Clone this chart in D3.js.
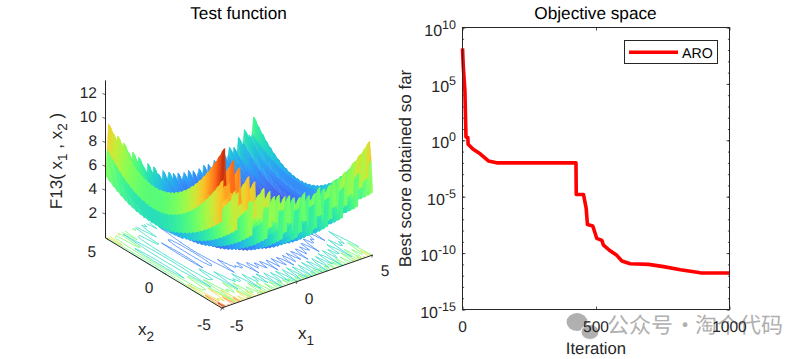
<!DOCTYPE html>
<html><head><meta charset="utf-8">
<script src="https://cdn.jsdelivr.net/npm/d3@7"></script>
<style>html,body{margin:0;padding:0;background:#fff}svg{display:block}text{font-family:"Liberation Sans",Arial,sans-serif;text-rendering:geometricPrecision}</style>
</head><body><svg id="c" width="810" height="359"></svg>
<script>
// Right panel: convergence curve.
const iterations = [0,3,9,13,20,21,40,66,97,128,425,426,453,463,468,488,503,522,528,553,578,597,628,697,753,816,891,1000];
const logScores = [8.15,6.5,4.4,0.3,0.25,-0.35,-0.8,-1.2,-1.83,-2,-2,-4.8,-4.8,-6.0,-7.47,-7.6,-8.7,-8.87,-9.3,-9.8,-10.2,-10.7,-10.95,-11.0,-11.2,-11.47,-11.75,-11.77];
const seriesName = "ARO";
const xTicks = [0,500,1000];
const yExponents = [10,5,0,-5,-10,-15];
const yMinorExponents = d3.range(-15,11);
// Left panel: the surface is the sampled test function F13 on a 101x101 grid (step 0.1).
// Its per-cell values cannot be read from the picture, so they are composed from these profile lists,
// which come from the function's definition and were checked against the picture's peaks.
const bowlProfile = [36,34.81,33.64,32.49,31.36,30.25,29.16,28.09,27.04,26.01,25,24.01,23.04,22.09,21.16,20.25,19.36,18.49,17.64,16.81,16,15.21,14.44,13.69,12.96,12.25,11.56,10.89,10.24,9.61,9,8.41,7.84,7.29,6.76,6.25,5.76,5.29,4.84,4.41,4,3.61,3.24,2.89,2.56,2.25,1.96,1.69,1.44,1.21,1,.81,.64,.49,.36,.25,.16,.09,.04,.01,0,.01,.04,.09,.16,.25,.36,.49,.64,.81,1,1.21,1.44,1.69,1.96,2.25,2.56,2.89,3.24,3.61,4,4.41,4.84,5.29,5.76,6.25,6.76,7.29,7.84,8.41,9,9.61,10.24,10.89,11.56,12.25,12.96,13.69,14.44,15.21,16];
const rippleA = [0,.6545,.9045,.0955,.3455,1,.3455,.0955,.9045,.6545];
const rippleB = [0,.3455,.9045,.9045,.3455];
const contourLevels = [2,4,6,8,10,12];
const zTicks = [2,4,6,8,10,12];
const floorTicks = [-5,0,5];

const svg = d3.select("#c");
const ink = "#262626";
const N = bowlProfile.length;
// i indexes x1 on the plot, j indexes x2: the plot's x2 is the function's first variable
const zAt = (i,j) => 0.1*(rippleA[j%10] + bowlProfile[j]*(1+rippleA[i%10]) + bowlProfile[i]*(1+rippleB[i%5]));

// ---------- left panel: orthographic projection built from linear scales
const gx1 = d3.scaleLinear().domain([-5,5]).range([0,151]);
const gy1 = d3.scaleLinear().domain([-5,5]).range([0,-53]);
const gx2 = d3.scaleLinear().domain([-5,5]).range([0,-116.2]);
const gy2 = d3.scaleLinear().domain([-5,5]).range([0,-70]);
const gz = d3.scaleLinear().domain([0,13.2]).range([0,-157.6]);
const O = [221.7,308];
const proj = (a,b,z) => [O[0]+gx1(a)+gx2(b), O[1]+gy1(a)+gy2(b)+gz(z)];
const color = d3.scaleSequential(d3.interpolateTurbo).domain([-0.2,13.6]);
const val = i => -5+i*0.1;

const L = svg.append("g");
// floor contours
const flat = new Array(N*N);
for(let j=0;j<N;j++) for(let i=0;i<N;i++) flat[i+j*N]=zAt(i,j);
const contours = d3.contours().size([N,N]).thresholds(contourLevels)(flat);
const toFloor = p => proj(val(p[0]-0.5),val(p[1]-0.5),0);
const inside = p => p[0]>=0.5&&p[0]<=N-0.5&&p[1]>=0.5&&p[1]<=N-0.5;
const contourLine = d3.line().defined(inside).x(p=>toFloor(p)[0]).y(p=>toFloor(p)[1]);
const rings = [];
contours.forEach(c=>c.coordinates.forEach(poly=>poly.forEach(r=>rings.push({v:c.value,r}))));
L.append("g").attr("fill","none").attr("stroke-width",0.8).selectAll("path").data(rings).join("path")
  .attr("stroke",d=>color(d.v)).attr("d",d=>contourLine(d.r));

// surface, painted far to near
const cells = [];
for(let i=N-2;i>=0;i--) for(let j=N-2;j>=0;j--) cells.push([i,j]);
L.append("g").attr("stroke-width",0.5).selectAll("path").data(cells).join("path").each(function(d){
  const [i,j]=d;
  const q=[[i,j],[i+1,j],[i+1,j+1],[i,j+1]];
  const zs=q.map(c=>zAt(c[0],c[1]));
  const c=color(d3.mean(zs));
  this.setAttribute("d","M"+q.map((p,k)=>proj(val(p[0]),val(p[1]),zs[k]).map(v=>v.toFixed(2)).join(",")).join("L")+"Z");
  this.setAttribute("fill",c);this.setAttribute("stroke",c);
});

// 3-D axes
const A = L.append("g").attr("stroke",ink).attr("fill","none");
const seg=(a,b,w)=>A.append("line").attr("x1",a[0]).attr("y1",a[1]).attr("x2",b[0]).attr("y2",b[1]).attr("stroke-width",w||1);
seg(proj(-5,5,0),proj(-5,5,13.2),1);
seg(proj(-5,5,0),proj(-5,-5,0),1);
seg(proj(-5,-5,0),proj(5,-5,0),1);
zTicks.forEach(z=>{const p=proj(-5,5,z);seg(p,[p[0]-3,p[1]-1.2],.7);});
floorTicks.forEach(v=>{
  const p=proj(v,-5,0);seg(p,[p[0]-1,p[1]+2.5],.7);
  const q=proj(-5,v,0);seg(q,[q[0]+2.5,q[1]+1.3],.7);
});
const T=(x,y,s,o={})=>svg.append("text").attr("x",x).attr("y",y).attr("fill",o.fill||ink)
  .attr("font-size",o.size||15.5).attr("text-anchor",o.anchor||"middle").text(s);
zTicks.forEach(z=>T(97,proj(-5,5,z)[1]+3.5,z,{anchor:"end"}));
[[-5,236.7,331],[0,309,304],[5,385,276]].forEach(d=>T(d[1],d[2],d[0]));
[[5,91.7,257],[0,149,293],[-5,204,330]].forEach(d=>T(d[1],d[2],d[0]));
function sub(x,y,base,s){
  const t=svg.append("text").attr("x",x).attr("y",y).attr("fill",ink).attr("font-size",17).attr("text-anchor","middle");
  t.append("tspan").text(base);
  t.append("tspan").attr("font-size",13.5).attr("dy",6).text(s);
}
sub(146,335,"x","2");
sub(306,339,"x","1");
T(238.5,19,"Test function",{size:17.2,fill:"#000"});
const zl=svg.append("text").attr("transform","translate(62,161) rotate(-90)").attr("text-anchor","middle").attr("font-size",17).attr("fill",ink);
zl.append("tspan").text("F13( x");
zl.append("tspan").attr("font-size",13.5).attr("dy",5).text("1");
zl.append("tspan").attr("dy",-5).text(" , x");
zl.append("tspan").attr("font-size",13.5).attr("dy",5).text("2");
zl.append("tspan").attr("dy",-5).text(" )");

// ---------- right panel
const x = d3.scaleLinear().domain([0,1000]).range([462.5,729.5]);
const y = d3.scaleLinear().domain([-15,10]).range([309.5,27.5]);
const wm = svg.append("g").attr("fill","#b0b0b0");
wm.append("ellipse").attr("cx",577).attr("cy",322).attr("rx",10.5).attr("ry",9);
wm.append("ellipse").attr("cx",590).attr("cy",332).attr("rx",9).attr("ry",7.5).attr("stroke","#fff").attr("stroke-width",1);
const wt = wm.append("text").attr("y",333).attr("font-size",22).style("font-family",'"Noto Sans CJK SC"');
wt.append("tspan").attr("x",607).text("公众号");
wt.append("tspan").attr("x",674).text("·");
wt.append("tspan").attr("x",695).text("淘个代码");

const R = svg.append("g");
const styleAxis = g => { g.select(".domain").remove(); g.selectAll("text").remove(); g.selectAll("line").attr("stroke",ink).attr("stroke-width",.8); };
R.append("g").attr("transform","translate(0,309.5)").call(d3.axisBottom(x).tickValues(xTicks).tickSize(-3)).call(styleAxis);
R.append("g").attr("transform","translate(0,27.5)").call(d3.axisTop(x).tickValues(xTicks).tickSize(-3)).call(styleAxis);
R.append("g").attr("transform","translate(462.5,0)").call(d3.axisLeft(y).tickValues(yExponents).tickSize(-3)).call(styleAxis);
R.append("g").attr("transform","translate(729.5,0)").call(d3.axisRight(y).tickValues(yExponents).tickSize(-3)).call(styleAxis);
R.append("g").attr("transform","translate(462.5,0)").call(d3.axisLeft(y).tickValues(yMinorExponents).tickSize(-1.6)).call(styleAxis);
R.append("g").attr("transform","translate(729.5,0)").call(d3.axisRight(y).tickValues(yMinorExponents).tickSize(-1.6)).call(styleAxis);

const line = d3.line().x((d,i)=>x(iterations[i])).y(d=>y(d));
R.append("path").datum(logScores).attr("fill","none").attr("stroke","#f00").attr("stroke-width",3.6)
  .attr("stroke-linejoin","round").attr("d",line);
R.append("rect").attr("x",x(0)).attr("y",y(10)).attr("width",x(1000)-x(0)).attr("height",y(-15)-y(10))
  .attr("fill","none").attr("stroke",ink).attr("stroke-width",1);

xTicks.forEach(v=>T(x(v),332,v));
yExponents.forEach(e=>{
  const t=svg.append("text").attr("x",456).attr("y",y(e)+8).attr("text-anchor","end").attr("font-size",16).attr("fill",ink);
  t.append("tspan").text("10");
  t.append("tspan").attr("font-size",12.5).attr("dy",-7).text(e);
});
T(596,354,"Iteration",{size:16.7});
T(595.5,19,"Objective space",{size:17.2,fill:"#000"});
svg.append("text").attr("transform","translate(411,168.5) rotate(-90)").attr("text-anchor","middle").attr("font-size",17).attr("fill",ink).text("Best score obtained so far");

// legend
const lg=svg.append("g");
lg.append("rect").attr("x",624.5).attr("y",40.5).attr("width",93).attr("height",23).attr("fill","#fff").attr("stroke",ink).attr("stroke-width",1);
lg.append("line").attr("x1",629).attr("x2",678).attr("y1",52.3).attr("y2",52.3).attr("stroke","#f00").attr("stroke-width",3.6);
lg.append("text").attr("x",682).attr("y",57.5).attr("font-size",14.2).attr("fill","#000").text(seriesName);
</script></body></html>
